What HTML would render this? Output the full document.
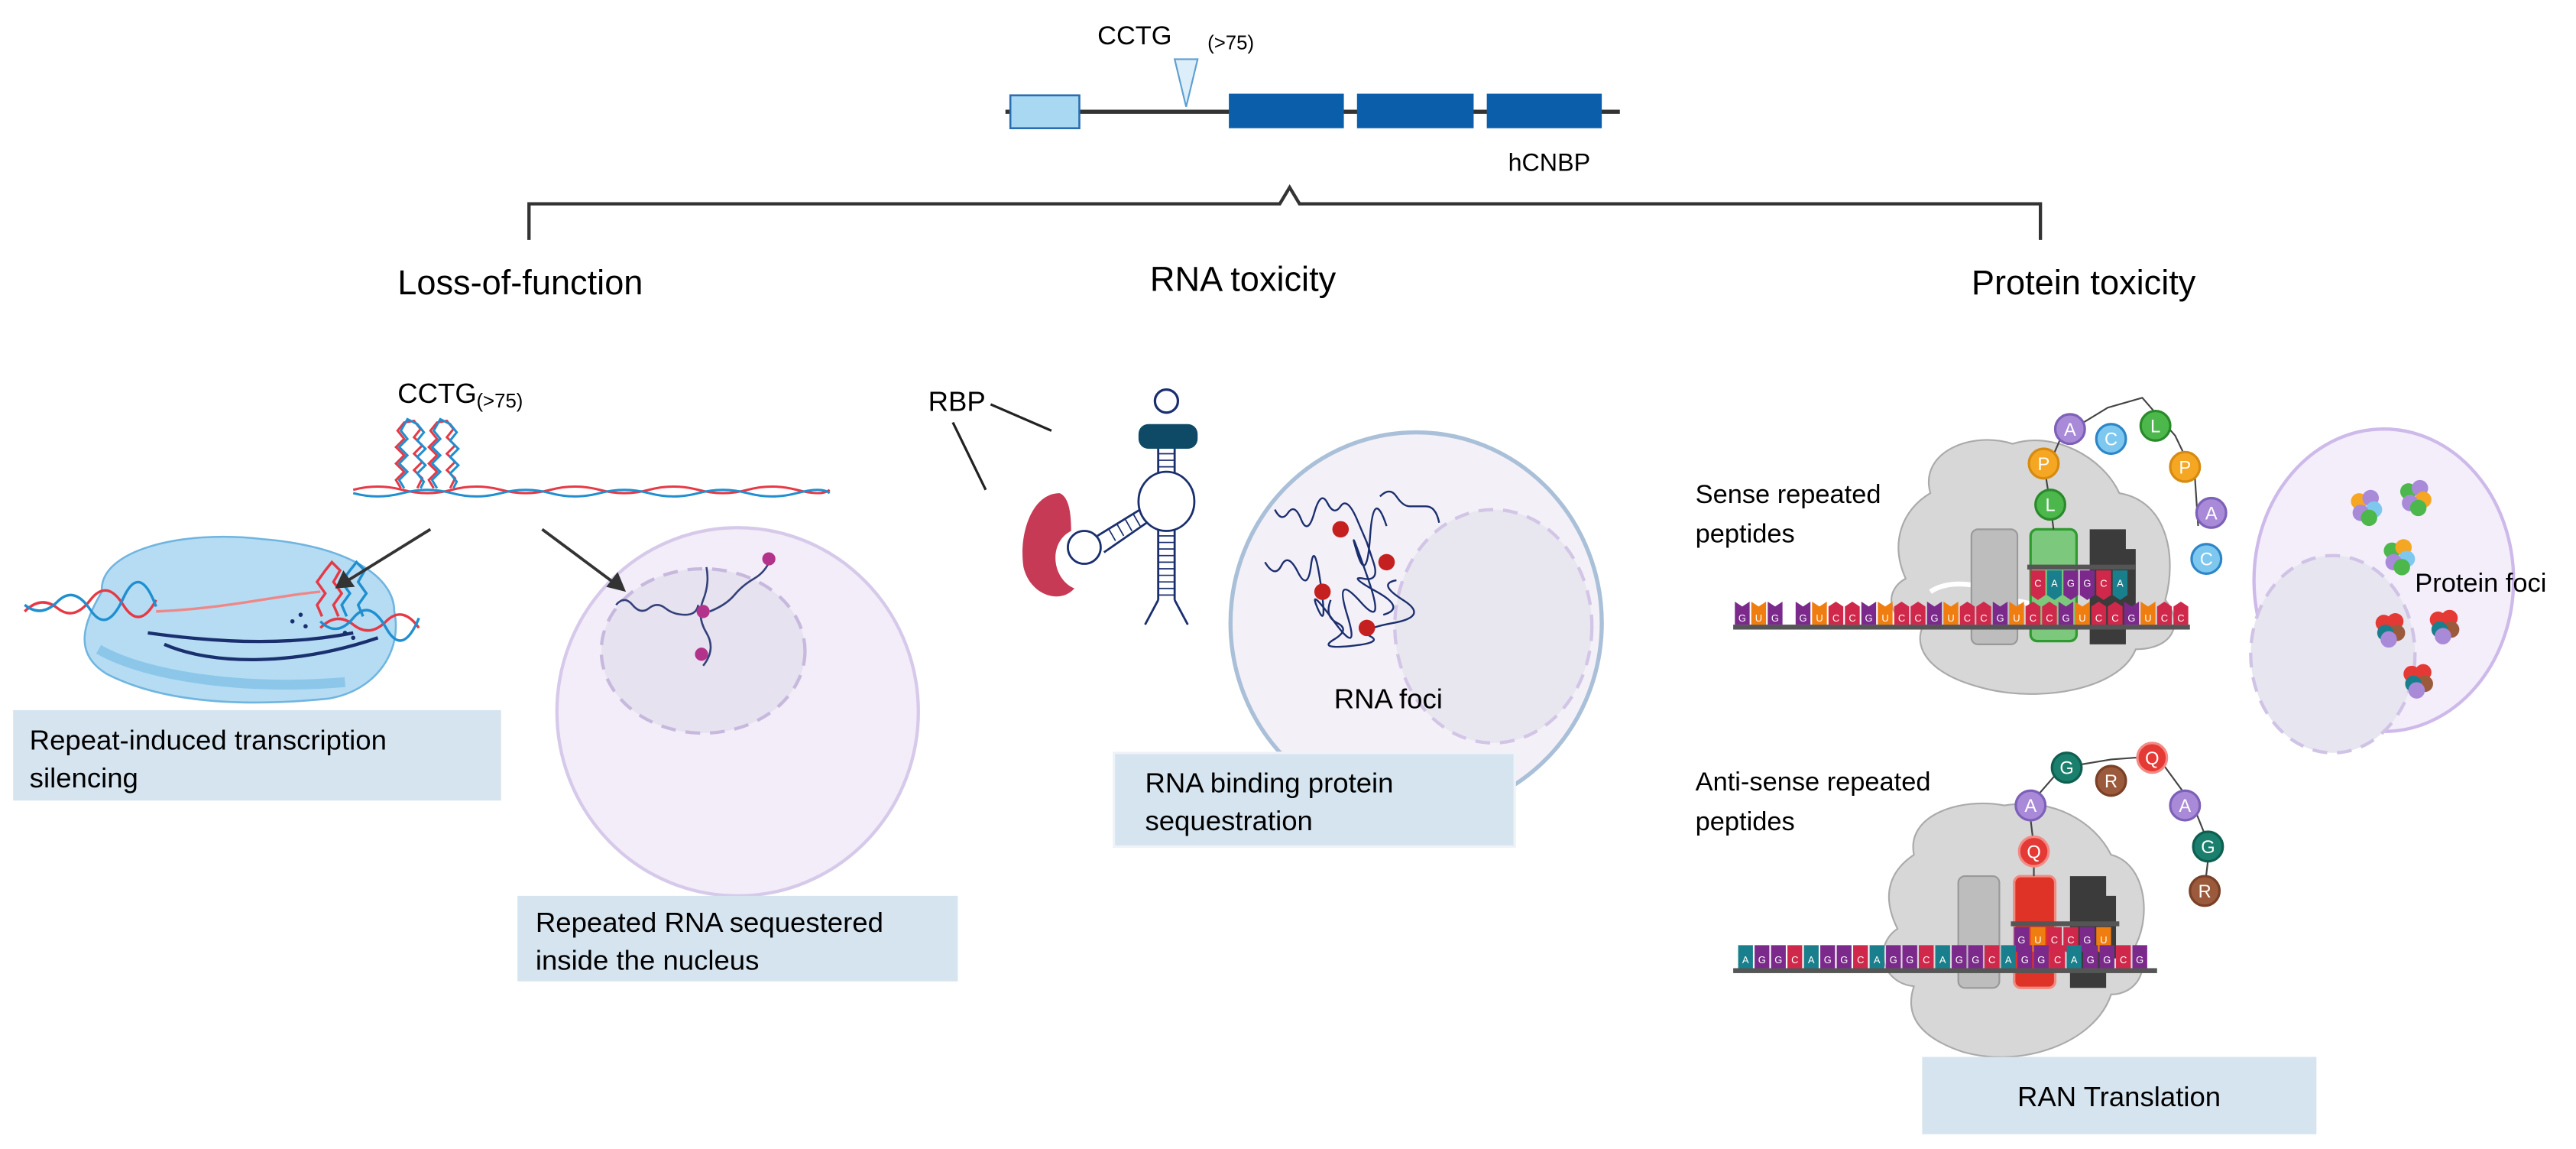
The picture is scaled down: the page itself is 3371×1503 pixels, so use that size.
<!DOCTYPE html>
<html><head><meta charset="utf-8"><style>
html,body{margin:0;padding:0;background:#fff;}
svg{display:block;font-family:"Liberation Sans",Arial,sans-serif;}
</style></head><body>
<svg width="3371" height="1503" viewBox="0 0 1568 699" preserveAspectRatio="none" xmlns="http://www.w3.org/2000/svg">
<!-- Gene -->
<line x1="612" y1="68" x2="986" y2="68" stroke="#333" stroke-width="2.5"/>
<rect x="615" y="58" width="42" height="20" fill="#a9d9f2" stroke="#2a6db0" stroke-width="1.2"/>
<rect x="748" y="57" width="70" height="21" fill="#0b5ea9"/>
<rect x="826" y="57" width="71" height="21" fill="#0b5ea9"/>
<rect x="905" y="57" width="70" height="21" fill="#0b5ea9"/>
<path d="M715,36 L729,36 L722,65 z" fill="#dceefa" stroke="#5f9fd0" stroke-width="1"/>
<text x="668" y="27" font-size="16">CCTG</text>
<text x="735" y="30" font-size="12">(&gt;75)</text>
<text x="918" y="104" font-size="15">hCNBP</text>
<!-- bracket -->
<path d="M322,146 L322,124 L779,124 L785,114 L791,124 L1242,124 L1242,146" fill="none" stroke="#333" stroke-width="2"/>
<text x="242" y="179" font-size="21">Loss-of-function</text>
<text x="700" y="177" font-size="21">RNA toxicity</text>
<text x="1200" y="179" font-size="21">Protein toxicity</text>

<!-- Loss of function -->
<text x="242" y="245" font-size="17">CCTG</text>
<text x="290" y="248" font-size="12">(&gt;75)</text>
<g fill="none" stroke-width="1.4">
<path d="M215,298 Q230,294 245,298 T275,298 T305,298 T335,298 T365,298 T395,298 T425,298 T455,298 T485,298 T505,298" stroke="#e63946"/>
<path d="M215,300 Q230,304 245,300 T275,300 T305,300 T335,300 T365,300 T395,300 T425,300 T455,300 T485,300 T505,300" stroke="#1f8fd0"/>
<path d="M244,297 L241,292 L246,287 L241,282 L246,277 L241,272 L246,267 L242,262 L246,257 L252,256 L256,261 L252,266 L257,271 L252,276 L257,281 L252,286 L257,291 L254,297" stroke="#e63946"/>
<path d="M246,297 L243,292 L248,287 L243,282 L248,277 L243,272 L248,267 L244,262 L248,255 L254,258 L258,263 L254,268 L259,273 L254,278 L259,283 L254,288 L258,293 L256,297" stroke="#1f8fd0"/>
<path d="M264,297 L261,292 L266,287 L261,282 L266,277 L261,272 L266,267 L262,262 L266,257 L272,256 L276,261 L272,266 L277,271 L272,276 L277,281 L272,286 L277,291 L274,297" stroke="#e63946"/>
<path d="M266,297 L263,292 L268,287 L263,282 L268,277 L263,272 L268,267 L264,262 L268,255 L274,258 L278,263 L274,268 L279,273 L274,278 L279,283 L274,288 L278,293 L276,297" stroke="#1f8fd0"/>
</g>
<!-- polymerase -->
<path d="M62,360 C60,335 110,322 160,328 C210,332 240,350 240,372 C245,395 230,420 200,425 C150,430 100,428 65,410 C45,398 50,380 62,360 z" fill="#b5dcf3" stroke="#6fb5e0" stroke-width="1.2"/>
<path d="M60,395 C90,412 150,420 210,415" fill="none" stroke="#8cc7ea" stroke-width="6"/>
<g fill="none" stroke-width="1.6">
<path d="M15,372 Q25,362 35,370 T55,365 T75,368 T95,365" stroke="#e63946"/>
<path d="M15,368 Q25,376 35,366 T55,371 T75,364 T95,369" stroke="#1f8fd0"/>
<path d="M95,372 C140,370 170,362 195,360" stroke="#e88" />
<path d="M90,385 C140,392 180,392 215,385" stroke="#1a2f6e" stroke-width="2"/>
<path d="M100,392 C130,405 180,405 230,388" stroke="#1a2f6e" stroke-width="2"/>
<path d="M195,382 Q205,372 215,380 T235,378 T255,382" stroke="#e63946"/>
<path d="M195,378 Q205,388 215,376 T235,382 T255,376" stroke="#1f8fd0"/>
<path d="M196,375 L193,368 L198,361 L193,354 L198,347 L202,342 L207,347 L203,354 L208,361 L203,368 L206,375" stroke="#e63946"/>
<path d="M211,375 L208,368 L213,361 L208,354 L213,347 L217,342 L222,347 L218,354 L223,361 L218,368 L221,375" stroke="#1f8fd0"/>
</g>
<g fill="#1a2f6e"><circle cx="178" cy="378" r="1.3"/><circle cx="183" cy="374" r="1.3"/><circle cx="186" cy="381" r="1.3"/><circle cx="210" cy="385" r="1.3"/><circle cx="215" cy="388" r="1.3"/></g>
<rect x="8" y="432" width="297" height="55" fill="#d6e4ef"/>
<text x="18" y="456" font-size="17">Repeat-induced transcription</text>
<text x="18" y="479" font-size="17">silencing</text>
<!-- nucleus 1 -->
<ellipse cx="449" cy="433" rx="110" ry="112" fill="#f2edf8" stroke="#d6c9ea" stroke-width="2"/>
<ellipse cx="428" cy="396" rx="62" ry="50" fill="#e6e2ef" stroke="#c7b9de" stroke-width="2" stroke-dasharray="9,6"/>
<g fill="none" stroke="#33407a" stroke-width="1.2">
<path d="M375,368 q5,-6 10,0 t10,2 t10,0 t12,4 t8,-6"/>
<path d="M430,345 q2,10 -2,20 t2,20 t-2,20"/>
<path d="M432,372 q10,-4 15,-10 t12,-10 t10,-12"/>
</g>
<circle cx="428" cy="372" r="4" fill="#b4338a"/><circle cx="427" cy="398" r="4" fill="#b4338a"/><circle cx="468" cy="340" r="4" fill="#b4338a"/>
<!-- arrows (drawn on top) -->
<line x1="262" y1="322" x2="212" y2="353" stroke="#333" stroke-width="1.8"/>
<path d="M204,358 L209,347 L216,357 z" fill="#333"/>
<line x1="330" y1="322" x2="373" y2="354" stroke="#333" stroke-width="1.8"/>
<path d="M381,360 L369,357 L376,348 z" fill="#333"/>
<rect x="315" y="545" width="268" height="52" fill="#d6e4ef"/>
<text x="326" y="567" font-size="17">Repeated RNA sequestered</text>
<text x="326" y="590" font-size="17">inside the nucleus</text>

<!-- RNA toxicity -->
<text x="565" y="250" font-size="17">RBP</text>
<line x1="603" y1="246" x2="640" y2="262" stroke="#222" stroke-width="1.5"/>
<line x1="580" y1="257" x2="600" y2="298" stroke="#222" stroke-width="1.5"/>
<circle cx="710" cy="244" r="7" fill="#fff" stroke="#1a2f6e" stroke-width="1.5"/>
<rect x="693" y="258" width="36" height="15" rx="6" fill="#0e4a66"/>
<g stroke="#1a2f6e" stroke-width="1.3" fill="none">
<line x1="705" y1="273" x2="705" y2="290"/><line x1="715" y1="273" x2="715" y2="290"/>
<path d="M705,276h10M705,280h10M705,284h10M705,288h10" stroke-width="0.8"/>
<ellipse cx="710" cy="305" rx="17" ry="18" fill="#fff"/>
<line x1="705" y1="322" x2="705" y2="365"/><line x1="715" y1="322" x2="715" y2="365"/>
<path d="M705,326h10M705,330h10M705,334h10M705,338h10M705,342h10M705,346h10M705,350h10M705,354h10M705,358h10M705,362h10" stroke-width="0.8"/>
<path d="M705,365 L697,380 M715,365 L723,380"/>
<line x1="694" y1="310" x2="668" y2="326"/><line x1="698" y1="318" x2="672" y2="336"/>
<path d="M690,313l4,7M685,316l4,7M680,319l4,7M675,322l4,7" stroke-width="0.8"/>
</g>
<path d="M645,300 C628,300 620,325 623,345 C627,362 645,368 654,358 C640,352 638,330 652,323 C652,310 650,302 645,300 z" fill="#c73a55"/>
<circle cx="660" cy="333" r="10" fill="#fff" stroke="#1a2f6e" stroke-width="1.3"/>
<ellipse cx="862" cy="379" rx="113" ry="116" fill="#f4f0f8" stroke="#a9c0d8" stroke-width="2.5"/>
<ellipse cx="909" cy="381" rx="60" ry="71" fill="#e8e6ef" stroke="#d2c5e6" stroke-width="2" stroke-dasharray="9,6"/>
<g fill="none" stroke="#1a2f6e" stroke-width="1.1">
<path d="M776,310 q4,8 8,2 t8,4 t8,-4 t8,-6 t8,2 t10,8 t6,14 t4,12 t-6,10 t8,8 t4,14"/>
<path d="M770,342 q6,10 10,2 t10,4 t8,-4 t6,12 t-2,14 t10,8 t8,-4 t8,-8 t4,-16 t-6,-14 t8,-10 t10,-6"/>
<path d="M810,365 q-4,10 4,14 t-2,10 t10,4 t12,-6 t14,-8 t6,-14 t-4,-12"/>
<path d="M840,302 q6,-6 10,0 t8,6 t10,0 t8,10"/>
</g>
<g fill="#c42020"><circle cx="816" cy="322" r="5"/><circle cx="844" cy="342" r="5"/><circle cx="805" cy="360" r="5"/><circle cx="832" cy="382" r="5"/></g>
<text x="812" y="431" font-size="17">RNA foci</text>
<rect x="678" y="458" width="244" height="57" fill="#d6e4ef" stroke="#eef3f8" stroke-width="1.5"/>
<text x="697" y="482" font-size="17">RNA binding protein</text>
<text x="697" y="505" font-size="17">sequestration</text>

<!-- Protein toxicity: sense -->
<text x="1032" y="306" font-size="16">Sense repeated</text>
<text x="1032" y="330" font-size="16">peptides</text>
<path d="M1175,300 C1168,275 1200,262 1225,270 C1250,262 1280,278 1290,300 C1320,305 1325,340 1318,365 C1330,380 1322,395 1300,395 C1290,420 1240,428 1205,418 C1175,410 1165,395 1170,382 C1150,380 1145,360 1160,352 C1150,330 1158,310 1175,300 z" fill="#d7d7d7" stroke="#aaa" stroke-width="1"/>
<path d="M1175,360 C1190,350 1215,358 1225,365 L1240,368" fill="none" stroke="#fff" stroke-width="3"/>
<rect x="1200" y="322" width="28" height="70" rx="4" fill="#bdbdbd" stroke="#999"/>
<rect x="1236" y="322" width="28" height="68" rx="4" fill="#7cc87c" stroke="#2f9a2f" stroke-width="1.5"/>
<path d="M1272,322 h22 v12 h6 v38 h-6 v20 h-22 z" fill="#3b3b3b"/>
<line x1="1234" y1="345" x2="1300" y2="345" stroke="#555" stroke-width="3"/>
<g font-size="6" fill="#fff" text-anchor="middle">
<path d="M1236,347h9v15l-4.5,3l-4.5,-3z" fill="#d0284b"/><text x="1240.5" y="357">C</text>
<path d="M1246,347h9v15l-4.5,3l-4.5,-3z" fill="#1a7f8c"/><text x="1250.5" y="357">A</text>
<path d="M1256,347h9v15l-4.5,3l-4.5,-3z" fill="#7b2a8c"/><text x="1260.5" y="357">G</text>
<path d="M1266,347h9v15l-4.5,3l-4.5,-3z" fill="#7b2a8c"/><text x="1270.5" y="357">G</text>
<path d="M1276,347h9v15l-4.5,3l-4.5,-3z" fill="#d0284b"/><text x="1280.5" y="357">C</text>
<path d="M1286,347h9v15l-4.5,3l-4.5,-3z" fill="#1a7f8c"/><text x="1290.5" y="357">A</text>
</g>
<rect x="1055" y="380" width="278" height="3" fill="#555"/>
<g font-size="6" fill="#fff" text-anchor="middle">
<path d="M1056,380v-14l4.5,3l4.5,-3v14z" fill="#7b2a8c"/><text x="1060.5" y="378">G</text>
<path d="M1066,380v-14l4.5,3l4.5,-3v14z" fill="#f07d10"/><text x="1070.5" y="378">U</text>
<path d="M1076,380v-14l4.5,3l4.5,-3v14z" fill="#7b2a8c"/><text x="1080.5" y="378">G</text>
<path d="M1093,380v-14l4.5,3l4.5,-3v14z" fill="#7b2a8c"/><text x="1097.5" y="378">G</text>
<path d="M1103,380v-14l4.5,3l4.5,-3v14z" fill="#f07d10"/><text x="1107.5" y="378">U</text>
<path d="M1113,380v-11l4.5,-3l4.5,3v11z" fill="#d0284b"/><text x="1117.5" y="378">C</text>
<path d="M1123,380v-11l4.5,-3l4.5,3v11z" fill="#d0284b"/><text x="1127.5" y="378">C</text>
<path d="M1133,380v-14l4.5,3l4.5,-3v14z" fill="#7b2a8c"/><text x="1137.5" y="378">G</text>
<path d="M1143,380v-14l4.5,3l4.5,-3v14z" fill="#f07d10"/><text x="1147.5" y="378">U</text>
<path d="M1153,380v-11l4.5,-3l4.5,3v11z" fill="#d0284b"/><text x="1157.5" y="378">C</text>
<path d="M1163,380v-11l4.5,-3l4.5,3v11z" fill="#d0284b"/><text x="1167.5" y="378">C</text>
<path d="M1173,380v-14l4.5,3l4.5,-3v14z" fill="#7b2a8c"/><text x="1177.5" y="378">G</text>
<path d="M1183,380v-14l4.5,3l4.5,-3v14z" fill="#f07d10"/><text x="1187.5" y="378">U</text>
<path d="M1193,380v-11l4.5,-3l4.5,3v11z" fill="#d0284b"/><text x="1197.5" y="378">C</text>
<path d="M1203,380v-11l4.5,-3l4.5,3v11z" fill="#d0284b"/><text x="1207.5" y="378">C</text>
<path d="M1213,380v-14l4.5,3l4.5,-3v14z" fill="#7b2a8c"/><text x="1217.5" y="378">G</text>
<path d="M1223,380v-14l4.5,3l4.5,-3v14z" fill="#f07d10"/><text x="1227.5" y="378">U</text>
<path d="M1233,380v-11l4.5,-3l4.5,3v11z" fill="#d0284b"/><text x="1237.5" y="378">C</text>
<path d="M1243,380v-11l4.5,-3l4.5,3v11z" fill="#d0284b"/><text x="1247.5" y="378">C</text>
<path d="M1253,380v-14l4.5,3l4.5,-3v14z" fill="#7b2a8c"/><text x="1257.5" y="378">G</text>
<path d="M1263,380v-14l4.5,3l4.5,-3v14z" fill="#f07d10"/><text x="1267.5" y="378">U</text>
<path d="M1273,380v-11l4.5,-3l4.5,3v11z" fill="#d0284b"/><text x="1277.5" y="378">C</text>
<path d="M1283,380v-11l4.5,-3l4.5,3v11z" fill="#d0284b"/><text x="1287.5" y="378">C</text>
<path d="M1293,380v-14l4.5,3l4.5,-3v14z" fill="#7b2a8c"/><text x="1297.5" y="378">G</text>
<path d="M1303,380v-14l4.5,3l4.5,-3v14z" fill="#f07d10"/><text x="1307.5" y="378">U</text>
<path d="M1313,380v-11l4.5,-3l4.5,3v11z" fill="#d0284b"/><text x="1317.5" y="378">C</text>
<path d="M1323,380v-11l4.5,-3l4.5,3v11z" fill="#d0284b"/><text x="1327.5" y="378">C</text>
</g>
<!-- sense beads -->
<path d="M1250,322 L1248,307 L1245,288 L1255,265 L1283,248 L1304,242 L1324,265 L1336,290 L1338,320" fill="none" stroke="#444" stroke-width="1"/>
<g font-size="11" text-anchor="middle" fill="#fff" stroke-width="1.5">
<circle cx="1248" cy="307" r="9" fill="#4cb84c" stroke="#2a8a2a"/><text x="1248" y="311">L</text>
<circle cx="1244" cy="282" r="9" fill="#f5a623" stroke="#d68a10"/><text x="1244" y="286">P</text>
<circle cx="1260" cy="261" r="9" fill="#a88ad8" stroke="#7d60b8"/><text x="1260" y="265">A</text>
<circle cx="1285" cy="267" r="9" fill="#7ec8f0" stroke="#2d86c8"/><text x="1285" y="271">C</text>
<circle cx="1312" cy="259" r="9" fill="#4cb84c" stroke="#2a8a2a"/><text x="1312" y="263">L</text>
<circle cx="1330" cy="284" r="9" fill="#f5a623" stroke="#d68a10"/><text x="1330" y="288">P</text>
<circle cx="1346" cy="312" r="9" fill="#a88ad8" stroke="#7d60b8"/><text x="1346" y="316">A</text>
<circle cx="1343" cy="340" r="9" fill="#7ec8f0" stroke="#2d86c8"/><text x="1343" y="344">C</text>
</g>
<!-- protein foci -->
<ellipse cx="1451" cy="353" rx="79" ry="92" fill="#f3eef9" stroke="#cdb9ea" stroke-width="2"/>
<ellipse cx="1420" cy="398" rx="50" ry="60" fill="#e7e5ef" stroke="#d0c3e6" stroke-width="2" stroke-dasharray="9,6"/>
<g>
<g transform="translate(1440,308)"><circle cx="-4" cy="-3" r="5" fill="#f5a623"/><circle cx="3" cy="-5" r="5" fill="#a88ad8"/><circle cx="5" cy="2" r="5" fill="#7ec8f0"/><circle cx="-3" cy="4" r="5" fill="#a88ad8"/><circle cx="2" cy="7" r="5" fill="#4cb84c"/></g>
<g transform="translate(1470,302)"><circle cx="-4" cy="-3" r="5" fill="#4cb84c"/><circle cx="3" cy="-5" r="5" fill="#a88ad8"/><circle cx="5" cy="2" r="5" fill="#f5a623"/><circle cx="-3" cy="4" r="5" fill="#a88ad8"/><circle cx="2" cy="7" r="5" fill="#4cb84c"/></g>
<g transform="translate(1460,338)"><circle cx="-4" cy="-3" r="5" fill="#4cb84c"/><circle cx="3" cy="-5" r="5" fill="#f5a623"/><circle cx="5" cy="2" r="5" fill="#7ec8f0"/><circle cx="-3" cy="4" r="5" fill="#a88ad8"/><circle cx="2" cy="7" r="5" fill="#4cb84c"/></g>
<g transform="translate(1455,382)"><circle cx="-4" cy="-3" r="5" fill="#e53935"/><circle cx="3" cy="-4" r="5" fill="#e53935"/><circle cx="4" cy="3" r="5" fill="#9c5a3c"/><circle cx="-3" cy="3" r="5" fill="#1a7f8c"/><circle cx="-1" cy="7" r="5" fill="#a88ad8"/></g>
<g transform="translate(1488,380)"><circle cx="-4" cy="-3" r="5" fill="#e53935"/><circle cx="3" cy="-4" r="5" fill="#e53935"/><circle cx="4" cy="3" r="5" fill="#9c5a3c"/><circle cx="-3" cy="3" r="5" fill="#1a7f8c"/><circle cx="-1" cy="7" r="5" fill="#a88ad8"/></g>
<g transform="translate(1472,413)"><circle cx="-4" cy="-3" r="5" fill="#e53935"/><circle cx="3" cy="-4" r="5" fill="#e53935"/><circle cx="4" cy="3" r="5" fill="#9c5a3c"/><circle cx="-3" cy="3" r="5" fill="#1a7f8c"/><circle cx="-1" cy="7" r="5" fill="#a88ad8"/></g>
</g>
<text x="1470" y="360" font-size="16">Protein foci</text>

<!-- anti-sense -->
<text x="1032" y="481" font-size="16">Anti-sense repeated</text>
<text x="1032" y="505" font-size="16">peptides</text>
<path d="M1165,520 C1160,495 1195,485 1220,490 C1250,485 1275,500 1285,520 C1305,525 1310,555 1300,575 C1310,590 1300,605 1285,605 C1275,635 1230,650 1195,640 C1165,630 1160,615 1165,600 C1145,598 1140,575 1155,565 C1145,545 1150,530 1165,520 z" fill="#d7d7d7" stroke="#aaa" stroke-width="1"/>
<rect x="1192" y="533" width="25" height="68" rx="4" fill="#bdbdbd" stroke="#999"/>
<rect x="1226" y="533" width="25" height="68" rx="4" fill="#e03328" stroke="#f08a80" stroke-width="1.5"/>
<path d="M1260,533 h22 v12 h6 v38 h-6 v18 h-22 z" fill="#3b3b3b"/>
<line x1="1224" y1="562" x2="1290" y2="562" stroke="#555" stroke-width="3"/>
<g font-size="6" fill="#fff" text-anchor="middle">
<path d="M1226,564h9v14l-4.5,3l-4.5,-3z" fill="#7b2a8c"/><text x="1230.5" y="574">G</text>
<path d="M1236,564h9v14l-4.5,3l-4.5,-3z" fill="#f07d10"/><text x="1240.5" y="574">U</text>
<path d="M1246,564h9v14l-4.5,3l-4.5,-3z" fill="#d0284b"/><text x="1250.5" y="574">C</text>
<path d="M1256,564h9v14l-4.5,3l-4.5,-3z" fill="#d0284b"/><text x="1260.5" y="574">C</text>
<path d="M1266,564h9v14l-4.5,3l-4.5,-3z" fill="#7b2a8c"/><text x="1270.5" y="574">G</text>
<path d="M1276,564h9v14l-4.5,3l-4.5,-3z" fill="#f07d10"/><text x="1280.5" y="574">U</text>
</g>
<rect x="1055" y="589" width="258" height="3" fill="#555"/>
<g font-size="6" fill="#fff" text-anchor="middle">
<path d="M1058,589v-14h9v14z" fill="#1a7f8c"/><text x="1062.5" y="586">A</text>
<path d="M1068,589v-14h9v14z" fill="#7b2a8c"/><text x="1072.5" y="586">G</text>
<path d="M1078,589v-14h9v14z" fill="#7b2a8c"/><text x="1082.5" y="586">G</text>
<path d="M1088,589v-14h9v14z" fill="#d0284b"/><text x="1092.5" y="586">C</text>
<path d="M1098,589v-14h9v14z" fill="#1a7f8c"/><text x="1102.5" y="586">A</text>
<path d="M1108,589v-14h9v14z" fill="#7b2a8c"/><text x="1112.5" y="586">G</text>
<path d="M1118,589v-14h9v14z" fill="#7b2a8c"/><text x="1122.5" y="586">G</text>
<path d="M1128,589v-14h9v14z" fill="#d0284b"/><text x="1132.5" y="586">C</text>
<path d="M1138,589v-14h9v14z" fill="#1a7f8c"/><text x="1142.5" y="586">A</text>
<path d="M1148,589v-14h9v14z" fill="#7b2a8c"/><text x="1152.5" y="586">G</text>
<path d="M1158,589v-14h9v14z" fill="#7b2a8c"/><text x="1162.5" y="586">G</text>
<path d="M1168,589v-14h9v14z" fill="#d0284b"/><text x="1172.5" y="586">C</text>
<path d="M1178,589v-14h9v14z" fill="#1a7f8c"/><text x="1182.5" y="586">A</text>
<path d="M1188,589v-14h9v14z" fill="#7b2a8c"/><text x="1192.5" y="586">G</text>
<path d="M1198,589v-14h9v14z" fill="#7b2a8c"/><text x="1202.5" y="586">G</text>
<path d="M1208,589v-14h9v14z" fill="#d0284b"/><text x="1212.5" y="586">C</text>
<path d="M1218,589v-14h9v14z" fill="#1a7f8c"/><text x="1222.5" y="586">A</text>
<path d="M1228,589v-14h9v14z" fill="#7b2a8c"/><text x="1232.5" y="586">G</text>
<path d="M1238,589v-14h9v14z" fill="#7b2a8c"/><text x="1242.5" y="586">G</text>
<path d="M1248,589v-14h9v14z" fill="#d0284b"/><text x="1252.5" y="586">C</text>
<path d="M1258,589v-14h9v14z" fill="#1a7f8c"/><text x="1262.5" y="586">A</text>
<path d="M1268,589v-14h9v14z" fill="#7b2a8c"/><text x="1272.5" y="586">G</text>
<path d="M1278,589v-14h9v14z" fill="#7b2a8c"/><text x="1282.5" y="586">G</text>
<path d="M1288,589v-14h9v14z" fill="#d0284b"/><text x="1292.5" y="586">C</text>
<path d="M1298,589v-14h9v14z" fill="#7b2a8c"/><text x="1302.5" y="586">G</text>
</g>
<path d="M1238,533 L1238,515 L1235,490 L1255,467 L1285,462 L1313,460 L1335,490 L1345,515 L1342,540" fill="none" stroke="#444" stroke-width="1"/>
<g font-size="11" text-anchor="middle" fill="#fff" stroke-width="1.5">
<circle cx="1238" cy="518" r="9" fill="#e53935" stroke="#f28b85"/><text x="1238" y="522">Q</text>
<circle cx="1236" cy="490" r="9" fill="#a88ad8" stroke="#7d60b8"/><text x="1236" y="494">A</text>
<circle cx="1258" cy="467" r="9" fill="#1a7f6c" stroke="#0f5f50"/><text x="1258" y="471">G</text>
<circle cx="1285" cy="475" r="9" fill="#9c5a3c" stroke="#7a4028"/><text x="1285" y="479">R</text>
<circle cx="1310" cy="461" r="9" fill="#e53935" stroke="#f28b85"/><text x="1310" y="465">Q</text>
<circle cx="1330" cy="490" r="9" fill="#a88ad8" stroke="#7d60b8"/><text x="1330" y="494">A</text>
<circle cx="1344" cy="515" r="9" fill="#1a7f6c" stroke="#0f5f50"/><text x="1344" y="519">G</text>
<circle cx="1342" cy="542" r="9" fill="#9c5a3c" stroke="#7a4028"/><text x="1342" y="546">R</text>
</g>
<rect x="1170" y="643" width="240" height="47" fill="#d6e4ef"/>
<text x="1228" y="673" font-size="17">RAN Translation</text>
</svg>
</body></html>
